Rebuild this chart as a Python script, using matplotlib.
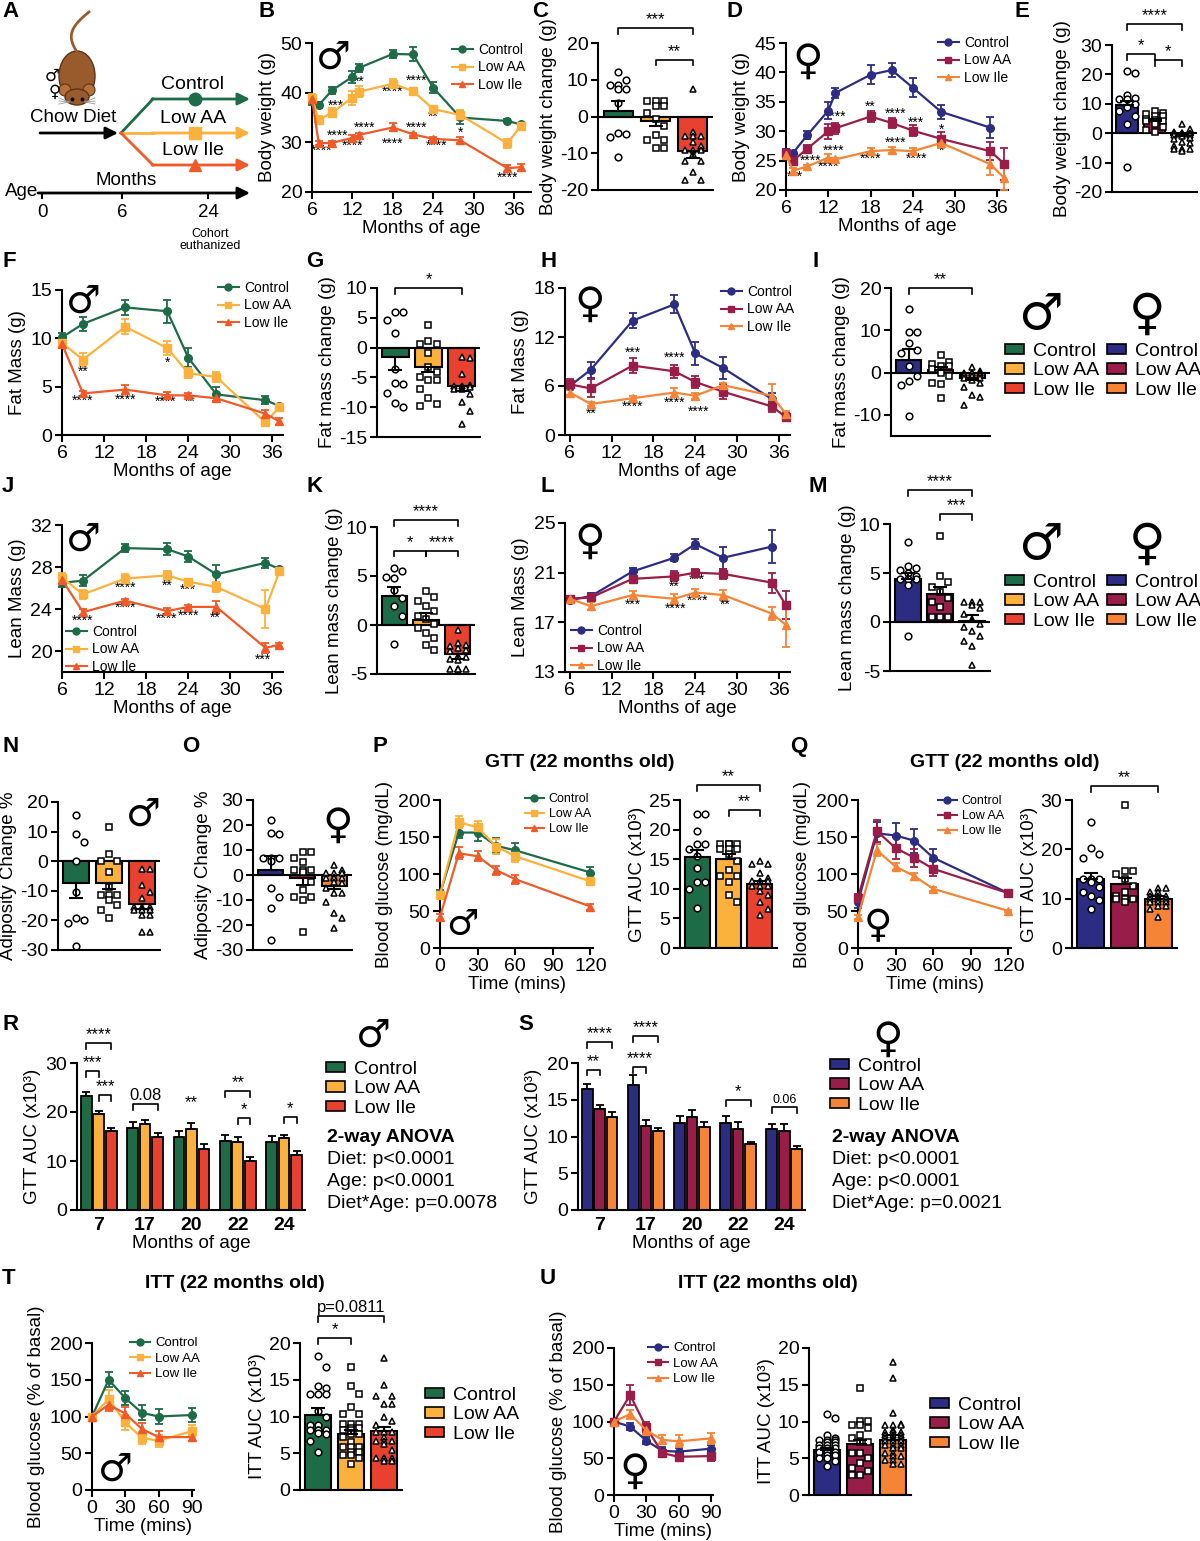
import numpy as np
import matplotlib
matplotlib.use('Agg')
import matplotlib.pyplot as plt
from matplotlib.patches import Patch, Ellipse, Circle
from matplotlib.lines import Line2D

nan = np.nan
GROUPS = ['Control', 'Low AA', 'Low Ile']

# ---------------- data ----------------
# B: male body weight
b_months = [6, 7, 9, 12, 13, 18, 21, 24, 28, 35, 37]
b_ctrl = [38.5, 37.5, 40.5, 43.2, 45.0, 47.8, 47.7, 41.0, 35.0, 34.3, 33.6]
b_ctrl_sem = [1.0, 0.6, 0.7, 1.2, 0.8, 0.8, 1.4, 1.1, 1.4, 0.3, 0.3]
b_aa = [39.0, 34.5, 36.0, 39.0, 40.2, 41.8, 40.3, 36.7, 35.5, 29.8, 33.3]
b_aa_sem = [0.8, 0.8, 0.9, 1.4, 1.1, 0.9, 0.7, 0.7, 1.0, 0.9, 0.4]
b_ile = [38.8, 29.8, 29.9, 30.9, 31.5, 33.0, 31.6, 30.7, 30.4, 24.8, 25.0]
b_ile_sem = [0.8, 0.4, 0.4, 0.6, 0.4, 0.8, 0.3, 0.3, 0.6, 0.7, 0.7]
b_stars = [(7, 33.3, '**'), (9.5, 37.3, '***'), (13, 42.2, '**'), (18, 40.1, '****'),
           (21.5, 42.3, '****'), (24, 35.2, '**'), (28, 32.0, '*'), (7.4, 28.3, '****'),
           (9.8, 31.3, '****'), (12, 29.3, '****'), (13.8, 33.0, '****'), (18, 29.7, '****'),
           (21.5, 33.0, '****'), (24.5, 29.3, '****'), (35, 22.9, '****')]

# C: male body weight change
c_means = [1.5, -1.2, -9.3]
c_sems = [2.8, 1.4, 2.0]
c_ctrl_pts = [12.0, 10.0, 8.7, 8.7, 7.5, 7.5, 3.8, -4.5, -4.7, -5.5, -11.0]
c_aa_pts = [4.2, 4.2, 4.2, 2.8, 2.8, 1.0, -0.8, -2.5, -5.0, -6.5, -6.5, -8.5, -8.5]
c_ile_pts = [7.5, -4.3, -5.4, -5.4, -5.4, -7.0, -7.9, -9.2, -9.2, -9.2, -10.1, -12.0, -12.0,
             -15.0, -17.3, -17.3]
c_brackets = [(0, 2, 24.0, '***'), (1, 2, 15.5, '**')]

# D: female body weight
d_months = [6, 7, 9, 12, 13, 18, 21, 24, 28, 35, 37]
d_ctrl = [26.5, 26.3, 29.3, 33.5, 36.5, 39.6, 40.4, 37.4, 33.3, 30.6, nan]
d_ctrl_sem = [0.5, 0.4, 0.7, 1.5, 0.9, 1.6, 1.2, 1.6, 1.2, 1.8, nan]
d_aa = [26.3, 25.0, 27.0, 30.0, 30.5, 32.5, 31.4, 30.1, 28.7, 26.6, 24.4]
d_aa_sem = [0.5, 0.4, 0.6, 1.3, 0.9, 0.9, 0.9, 0.9, 1.2, 1.5, 2.7]
d_ile = [26.0, 23.3, 24.0, 25.5, 25.2, 26.6, 26.8, 26.6, 28.0, 24.4, 22.0]
d_ile_sem = [0.5, 0.4, 0.3, 0.6, 0.3, 0.5, 0.5, 0.5, 0.8, 1.8, 2.0]
d_stars = [(13, 32.4, '****'), (18, 34.2, '**'), (21.5, 32.9, '****'), (24.5, 31.5, '***'),
           (28, 30.2, '*'), (9.5, 25.0, '****'), (12.8, 26.6, '****'), (12, 23.9, '****'),
           (7.3, 22.2, '***'), (18, 25.3, '****'), (21.5, 28.1, '****'), (24.5, 25.3, '****'),
           (28, 26.6, '*')]

# E: female body weight change
e_means = [9.5, 4.0, -0.6]
e_sems = [1.5, 0.8, 0.5]
e_ctrl_pts = [21.0, 20.5, 13.0, 12.0, 11.5, 11.5, 10.0, 9.0, 7.5, 6.0, 3.0, -11.5]
e_aa_pts = [7.5, 7.0, 6.5, 6.0, 6.0, 5.0, 4.5, 4.0, 4.0, 3.0, 2.0, 1.0, 0.5]
e_ile_pts = [3.0, 1.5, 0.5, 0.0, 0.0, 0.0, 0.0, -0.5, -0.5, -0.5, -1.0, -1.5, -2.0, -3.0,
             -3.5, -4.5, -5.5, -5.5, -5.5, -6.0]
e_brackets = [(0, 2, 37.0, '****'), (0, 1, 27.0, '*'), (1, 2, 25.0, '*')]

# F: male fat mass
f_months = [6, 9, 15, 21, 24, 28, 35, 37]
f_ctrl = [10.1, 11.5, 13.2, 12.8, 8.0, 4.2, 3.6, 3.0]
f_ctrl_sem = [0.5, 0.7, 0.8, 1.2, 1.0, 0.8, 0.4, 0.2]
f_aa = [9.5, 7.8, 11.2, 9.0, 6.4, 6.0, 1.3, 2.9]
f_aa_sem = [0.3, 0.7, 0.8, 0.7, 0.5, 0.5, 0.3, 0.3]
f_ile = [9.4, 4.3, 4.7, 4.1, 4.1, 3.8, 2.2, 1.4]
f_ile_sem = [0.3, 0.3, 0.5, 0.3, 0.2, 0.3, 0.4, 0.4]
f_stars = [(9, 6.5, '**'), (21, 7.5, '*'), (9, 3.5, '****'), (15, 3.6, '****'),
           (20.8, 3.4, '****'), (24.3, 3.4, '**')]

# G: male fat mass change
g_means = [-1.6, -3.3, -6.5]
g_sems = [2.2, 0.8, 0.7]
g_ctrl_pts = [6.0, 5.9, 4.6, 2.4, -3.6, -5.9, -6.1, -7.7, -9.3, -9.9]
g_aa_pts = [3.8, 1.1, 0.6, 0.6, -0.9, -3.3, -4.1, -5.0, -5.5, -5.5, -6.9, -8.4, -9.4, -9.8]
g_ile_pts = [-1.5, -1.7, -4.5, -6.2, -6.4, -6.4, -6.6, -6.9, -7.0, -7.8, -9.2, -10.7, -12.9]
g_brackets = [(0, 2, 10.0, '*')]

# H: female fat mass
h_months = [6, 9, 15, 21, 24, 28, 35, 37]
h_ctrl = [6.0, 8.0, 14.0, 16.0, 10.0, 8.2, 4.4, nan]
h_ctrl_sem = [0.5, 1.0, 0.9, 1.1, 1.4, 1.4, 0.8, nan]
h_aa = [6.2, 5.7, 8.5, 7.8, 6.5, 5.3, 3.5, 2.2]
h_aa_sem = [0.7, 1.1, 0.9, 0.8, 0.7, 0.9, 0.7, 0.5]
h_ile = [5.2, 3.8, 4.5, 5.2, 4.8, 6.1, 4.8, 2.6]
h_ile_sem = [0.3, 0.3, 0.3, 0.6, 0.4, 0.3, 1.5, 0.4]
h_stars = [(9, 2.6, '**'), (15, 10.1, '***'), (15, 3.4, '****'), (21, 9.4, '****'),
           (21, 3.9, '****'), (24.5, 2.9, '****')]

# I: female fat mass change
i_means = [3.0, 0.5, -1.2]
i_sems = [2.5, 0.8, 0.5]
i_ctrl_pts = [15.1, 9.6, 9.5, 6.9, 5.3, 4.7, 1.6, -0.8, -2.0, -2.9, -10.2]
i_aa_pts = [4.1, 2.5, 2.0, 1.6, 1.5, 0.9, 0.0, -0.8, -2.4, -2.8, -5.9]
i_ile_pts = [1.2, 0.4, 0.0, 0.0, -0.1, -0.2, -0.6, -0.6, -0.7, -1.2, -1.3, -1.7, -2.5, -3.5,
             -5.4, -5.7, -7.7]
i_brackets = [(0, 2, 20.0, '**')]

# J: male lean mass
j_months = [6, 9, 15, 21, 24, 28, 35, 37]
j_ctrl = [26.5, 26.7, 29.8, 29.7, 29.0, 27.3, 28.4, 27.8]
j_ctrl_sem = [0.4, 0.5, 0.4, 0.6, 0.5, 0.9, 0.5, 0.2]
j_aa = [27.0, 25.4, 26.9, 27.2, 26.6, 26.1, 24.0, 27.6]
j_aa_sem = [0.4, 0.4, 0.4, 0.4, 0.3, 0.5, 1.8, 0.3]
j_ile = [26.8, 23.7, 24.8, 23.8, 24.2, 24.2, 20.3, 20.6]
j_ile_sem = [0.3, 0.3, 0.2, 0.3, 0.2, 0.6, 0.5, 0.2]
j_stars = [(15, 26.0, '****'), (21, 26.2, '**'), (24, 25.8, '***'), (9, 22.9, '****'),
           (15, 24.1, '****'), (20.9, 23.1, '****'), (24, 23.4, '****'), (27.8, 23.2, '**'),
           (34.7, 19.2, '***')]

# K: male lean mass change
k_means = [3.0, 0.5, -3.0]
k_sems = [0.9, 0.7, 0.5]
k_ctrl_pts = [5.8, 5.5, 4.9, 4.8, 3.6, 2.8, 1.9, 0.9, -1.9]
k_aa_pts = [3.5, 2.9, 2.4, 1.9, 1.4, 0.9, 0.6, 0.1, -0.3, -0.8, -1.3, -2.0, -2.6]
k_ile_pts = [-0.5, -1.8, -2.0, -2.1, -2.3, -2.5, -2.7, -3.2, -3.3, -3.5, -3.6, -4.5, -4.5,
             -4.5, -4.5, -4.5]
k_brackets = [(0, 2, 10.7, '****'), (0, 1, 7.6, '*'), (1, 2, 7.6, '****')]

# L: female lean mass
l_months = [6, 9, 15, 21, 24, 28, 35, 37]
l_ctrl = [18.8, 19.1, 21.1, 22.2, 23.3, 22.2, 23.1, nan]
l_ctrl_sem = [0.2, 0.3, 0.3, 0.3, 0.4, 0.9, 1.3, nan]
l_aa = [18.9, 19.0, 20.5, 20.7, 21.0, 20.9, 20.2, 18.4]
l_aa_sem = [0.2, 0.3, 0.2, 0.4, 0.3, 0.4, 0.8, 1.1]
l_ile = [18.9, 18.3, 19.2, 18.9, 19.4, 19.2, 17.7, 16.8]
l_ile_sem = [0.2, 0.3, 0.3, 0.4, 0.3, 0.4, 0.5, 1.8]
l_stars = [(21, 19.9, '**'), (24.3, 20.4, '***'), (15, 18.4, '***'), (21.2, 18.1, '****'),
           (24.3, 18.7, '****'), (28.3, 18.45, '**')]

# M: female lean mass change
m_means = [4.4, 2.9, 0.1]
m_sems = [0.6, 0.7, 0.6]
m_ctrl_pts = [8.2, 5.7, 5.5, 5.3, 5.0, 4.7, 4.4, 4.4, 4.4, 4.4, 3.8, -1.4]
m_aa_pts = [8.8, 4.7, 4.1, 3.6, 3.1, 2.4, 2.0, 1.5, 0.5, 0.5, 0.5]
m_ile_pts = [2.0, 2.0, 2.0, 1.7, 1.4, 0.8, 0.3, -0.2, -0.5, -0.9, -1.4, -1.9, -2.4, -4.4]
m_brackets = [(0, 2, 13.5, '****'), (1, 2, 11.0, '***')]

# N: male adiposity change
n_means = [-7.3, -7.3, -14.3]
n_sems = [5.1, 2.2, 1.7]
n_ctrl_pts = [15.7, 9.3, 6.5, 0.0, -10.3, -19.1, -19.9, -21.0, -28.5]
n_aa_pts = [11.6, 2.6, 0.0, 0.0, -3.8, -8.7, -11.5, -11.5, -11.5, -13.1, -14.8, -16.5, -19.3]
n_ile_pts = [-2.5, -2.5, -8.1, -10.3, -12.6, -15.4, -15.4, -15.4, -16.5, -16.5, -16.5, -18.2,
             -18.2, -23.8, -23.8]

# O: female adiposity change
o_means = [2.0, -1.0, -4.5]
o_sems = [5.5, 2.8, 1.2]
o_ctrl_pts = [22.0, 16.7, 16.3, 6.7, 6.7, 6.7, 5.6, -5.3, -8.7, -13.3, -26.0]
o_aa_pts = [9.3, 9.3, 6.7, 5.3, 2.0, 2.0, 2.0, 1.3, -2.7, -6.0, -8.7, -8.7, -10.0, -22.7]
o_ile_pts = [4.0, 2.0, 0.7, 0.7, 0.7, -0.7, -1.3, -1.3, -1.3, -2.7, -3.3, -5.3, -7.3, -7.3,
             -10.7, -15.3, -17.0, -21.3]

# P / Q: GTT at 22 months
gtt_mins = [0, 15, 30, 45, 60, 120]
p_ctrl = [73, 156, 156, 138, 132, 102]
p_ctrl_sem = [5, 8, 12, 10, 10, 8]
p_aa = [72, 170, 163, 137, 124, 90]
p_aa_sem = [4, 8, 8, 10, 8, 5]
p_ile = [42, 128, 124, 105, 93, 56]
p_ile_sem = [4, 8, 7, 6, 6, 4]
p_auc = [15.3, 15.0, 10.8]
p_auc_sem = [1.3, 0.9, 0.6]
p_ctrl_pts = [22.6, 22.6, 19.8, 17.5, 17.5, 16.7, 15.6, 13.5, 11.1, 11.1, 10.0, 6.7]
p_aa_pts = [17.5, 17.5, 17.5, 17.5, 16.7, 16.7, 16.7, 15.9, 14.7, 13.2, 12.1, 12.1, 11.1, 8.9, 7.7]
p_ile_pts = [14.7, 14.2, 14.2, 12.7, 11.9, 11.4, 11.4, 11.4, 10.5, 10.5, 10.5, 9.7, 9.0, 7.8,
             6.6, 5.5]
p_brackets = [(0, 2, 27.5, '**'), (1, 2, 23.3, '**')]

q_ctrl = [62, 155, 152, 145, 122, 74]
q_ctrl_sem = [8, 15, 17, 16, 12, 4]
q_aa = [68, 158, 135, 122, 107, 74]
q_aa_sem = [5, 15, 15, 12, 10, 4]
q_ile = [42, 132, 110, 97, 80, 50]
q_ile_sem = [3, 8, 5, 5, 3, 2]
q_auc = [14.0, 13.0, 10.0]
q_auc_sem = [1.3, 1.1, 0.5]
q_ctrl_pts = [25.6, 20.2, 19.0, 18.2, 13.9, 13.9, 13.9, 13.3, 12.3, 11.3, 10.6, 9.8, 7.9]
q_aa_pts = [29.0, 15.7, 15.7, 15.0, 13.9, 12.6, 11.3, 10.6, 10.0, 10.0, 10.0, 9.3]
q_ile_pts = [12.1, 12.1, 11.3, 11.3, 10.6, 10.6, 10.6, 10.0, 10.0, 10.0, 10.0, 9.3, 9.3, 9.3,
             8.6, 8.6, 7.9, 6.3]
q_brackets = [(0, 2, 32.8, '**')]

# R / S: GTT AUC by age
gtt_ages = ['7', '17', '20', '22', '24']
r_ctrl = [23.2, 16.8, 15.0, 14.1, 13.8]
r_ctrl_sem = [0.8, 1.2, 1.1, 1.3, 1.3]
r_aa = [19.6, 17.5, 16.6, 13.9, 14.7]
r_aa_sem = [0.7, 0.9, 1.2, 1.0, 0.7]
r_ile = [16.1, 14.9, 12.4, 10.0, 11.2]
r_ile_sem = [0.6, 0.9, 1.0, 0.9, 0.8]
r_brackets = [(0, 0, 2, 34.0, '****'), (0, 0, 1, 28.3, '***'), (0, 1, 2, 23.4, '***'),
              (1, 0, 2, 21.6, '0.08'), (3, 0, 2, 24.2, '**'), (3, 1, 2, 18.7, '*'),
              (4, 1, 2, 19.0, '*')]
r_labels = [(2, 22.0, '**')]
r_anova = ['Diet: p<0.0001', 'Age: p<0.0001', 'Diet*Age: p=0.0078']

s_ctrl = [16.5, 17.0, 11.8, 11.9, 11.0]
s_ctrl_sem = [0.6, 1.4, 1.0, 0.9, 0.7]
s_aa = [13.8, 11.4, 12.7, 11.0, 10.8]
s_aa_sem = [0.5, 0.8, 0.9, 1.0, 0.9]
s_ile = [12.7, 10.7, 11.3, 9.0, 8.3]
s_ile_sem = [0.7, 0.4, 0.7, 0.3, 0.4]
s_brackets = [(0, 0, 2, 22.9, '****'), (0, 0, 1, 19.1, '**'), (1, 0, 2, 23.7, '****'),
              (1, 0, 1, 19.4, '****'), (3, 0, 2, 14.9, '*'), (4, 0, 2, 14.0, '0.06')]
s_anova = ['Diet: p<0.0001', 'Age: p<0.0001', 'Diet*Age: p=0.0021']

# T / U: ITT at 22 months
itt_mins = [0, 15, 30, 45, 60, 90]
t_ctrl = [100, 150, 125, 105, 100, 102]
t_ctrl_sem = [0, 10, 10, 10, 10, 10]
t_aa = [100, 124, 92, 71, 67, 80]
t_aa_sem = [0, 12, 10, 8, 8, 8]
t_ile = [100, 116, 104, 83, 72, 72]
t_ile_sem = [0, 9, 9, 8, 8, 6]
t_auc = [10.2, 7.6, 8.0]
t_auc_sem = [0.9, 0.5, 0.6]
t_ctrl_pts = [18.2, 16.7, 14.2, 13.9, 13.1, 13.1, 13.1, 10.8, 9.9, 8.8, 8.8, 8.2, 8.2, 8.2,
              8.2, 7.7, 7.6, 6.7, 5.2]
t_aa_pts = [16.7, 14.2, 13.0, 11.3, 10.4, 10.4, 9.0, 9.0, 9.0, 8.5, 8.5, 8.1, 8.1, 7.6, 7.6,
            7.2, 6.5, 5.8, 5.8, 5.8, 5.2, 5.2, 4.7, 4.7, 4.3, 3.6]
t_ile_pts = [17.9, 14.3, 12.8, 12.8, 11.7, 11.7, 9.9, 9.4, 8.8, 7.9, 7.9, 7.9, 7.2, 6.7, 6.7,
             6.7, 6.3, 5.4, 4.3, 4.3, 4.3, 4.3, 4.0, 4.0]
t_brackets = [(0, 1, 20.7, '*'), (0, 2, 23.7, 'p=0.0811')]

u_ctrl = [100, 93, 74, 60, 59, 63]
u_ctrl_sem = [0, 5, 5, 5, 5, 5]
u_aa = [100, 136, 92, 57, 52, 53]
u_aa_sem = [0, 14, 8, 5, 6, 7]
u_ile = [100, 110, 88, 75, 73, 77]
u_ile_sem = [0, 6, 6, 6, 8, 8]
u_auc = [6.1, 6.9, 7.5]
u_auc_sem = [0.3, 0.6, 0.6]
u_ctrl_pts = [11.0, 10.5, 8.2, 7.8, 7.5, 7.5, 7.5, 7.2, 7.2, 6.8, 6.8, 6.8, 6.4, 6.4, 6.4,
              5.9, 5.9, 5.9, 5.5, 5.5, 5.0, 5.0, 4.6, 3.9]
u_aa_pts = [14.6, 10.1, 10.1, 9.5, 9.5, 9.1, 8.2, 7.7, 7.2, 7.2, 5.7, 5.7, 5.0, 4.4, 3.7, 3.2,
            2.7, 2.7]
u_ile_pts = [18.1, 15.9, 11.1, 9.6, 9.5, 9.5, 9.5, 8.9, 8.6, 8.6, 8.6, 8.2, 8.2, 8.2, 7.7, 7.7,
             7.7, 7.3, 7.3, 7.3, 6.8, 6.8, 6.8, 6.4, 6.4, 5.7, 5.7, 5.3, 5.3, 4.8, 4.8, 4.2, 4.2]

# ---------------- style ----------------
plt.rcParams['font.family'] = ['Liberation Sans', 'DejaVu Sans']
plt.rcParams['axes.unicode_minus'] = False
plt.rcParams['axes.linewidth'] = 1.5
plt.rcParams['xtick.major.width'] = 1.5
plt.rcParams['ytick.major.width'] = 1.5
plt.rcParams['xtick.major.size'] = 5
plt.rcParams['ytick.major.size'] = 5

MALE = ['#1e6b48', '#fbb13c', '#ef5a28']
MALE_BAR = ['#1e6b48', '#fbb13c', '#e8412f']
FEMALE = ['#2d2c83', '#981d48', '#f58436']
MARKERS = ['o', 's', '^']
FS = 14

W, H = 1200, 1541
fig = plt.figure(figsize=(W / 100, H / 100), dpi=100)
ov = fig.add_axes([0, 0, 1, 1])
ov.set_xlim(0, W)
ov.set_ylim(H, 0)
ov.axis('off')


def box(x0, y0, x1, y1):
    ax = fig.add_axes([x0 / W, 1 - y1 / H, (x1 - x0) / W, (y1 - y0) / H])
    ax.patch.set_alpha(0)
    for s in ('top', 'right'):
        ax.spines[s].set_visible(False)
    ax.tick_params(labelsize=FS, pad=2)
    return ax, (x1 - x0, y1 - y0)


def swarm(vals, xstep, ystep, lim):
    vals = np.asarray(vals, float)
    offs = np.zeros(len(vals))
    cands = [0.0]
    k = 1
    while k * xstep <= lim:
        cands += [k * xstep, -k * xstep]
        k += 1
    placed = []
    for i in np.argsort(-vals, kind='stable'):
        best, best_d = 0.0, -1.0
        for c in cands:
            d = min([np.hypot((c - px) / xstep, (vals[i] - py) / ystep) for px, py in placed] or [9])
            if d >= 1:
                best = c
                break
            if d > best_d:
                best, best_d = c, d
        offs[i] = best
        placed.append((best, vals[i]))
    return offs


def legend_lines(colors, xy, fs=10):
    handles = [Line2D([], [], color=c, marker=mk, ms=5, lw=1.5) for c, mk in zip(colors, MARKERS)]
    fig.legend(handles, GROUPS, loc='upper left', bbox_to_anchor=(xy[0] / W, 1 - xy[1] / H),
               frameon=False, fontsize=fs, handlelength=1.5, handletextpad=0.4,
               labelspacing=0.25, borderpad=0, borderaxespad=0)


def legend_bars(colors, xy, fs=14):
    handles = [Patch(facecolor=c, edgecolor='k', lw=1.2) for c in colors]
    fig.legend(handles, GROUPS, loc='upper left', bbox_to_anchor=(xy[0] / W, 1 - xy[1] / H),
               frameon=False, fontsize=fs, handlelength=1.0, handleheight=0.45,
               handletextpad=0.45, labelspacing=0.12, borderpad=0, borderaxespad=0)


def line_panel(rect, t, series, colors, xlim, ylim, xticks, yticks, ylabel, xlabel,
               stars=(), star_fs=10):
    ax, _ = box(*rect)
    for (m, s), c, mk in zip(series, colors, MARKERS):
        eb = ax.errorbar(t, m, yerr=s, color=c, marker=mk, ms=5.5, lw=1.6, elinewidth=1.3,
                         capsize=3, capthick=1.3, zorder=3)
        eb.lines[0].set_clip_on(False)
        for art in list(eb.lines[1]) + list(eb.lines[2]):
            art.set_clip_on(False)
    ax.set_xlim(*xlim)
    ax.set_ylim(*ylim)
    ax.set_xticks(xticks)
    ax.set_yticks(yticks)
    ax.set_ylabel(ylabel, fontsize=13.5, labelpad=3)
    ax.set_xlabel(xlabel, fontsize=13.5, labelpad=1)
    for x, y, s in stars:
        ax.text(x, y, s, ha='center', va='center', fontsize=star_fs)
    return ax


def draw_brackets(ax, items, fs=12):
    lo, hi = ax.get_ylim()
    d = (hi - lo) * 0.04
    for x0, x1, y, lab in items:
        ax.plot([x0, x0, x1, x1], [y - d, y, y, y - d], color='k', lw=1.2, clip_on=False)
        small = 9 if lab == '0.06' else (12 if lab.startswith(('0', 'p')) else fs)
        ax.text((x0 + x1) / 2, y + d * 0.15, lab, ha='center', va='bottom', fontsize=small,
                clip_on=False)


def bar_panel(rect, means, sems, pts, colors, ylim, yticks, ylabel, brs=(), ms=4.8,
              star_fs=12):
    ax, (wpx, hpx) = box(*rect)
    xs = np.arange(3)
    ax.bar(xs, means, 0.8, color=colors, edgecolor='k', linewidth=1.5, zorder=2)
    ax.set_xlim(-0.55, 2.55)
    ax.set_ylim(*ylim)
    ax.set_yticks(yticks)
    ax.set_xticks([])
    if ylim[0] < 0:
        ax.axhline(0, color='k', lw=1.5, zorder=2.5)
    diam = ms * 1.39 * 1.2
    xstep = diam / (wpx / 3.1)
    ystep = 1.4 * diam / (hpx / (ylim[1] - ylim[0]))
    for x, vals, mk in zip(xs, pts, MARKERS):
        off = swarm(vals, xstep, ystep, 0.36)
        ax.plot(x + off, vals, ls='none', marker=mk, ms=ms, mfc='white', mec='k', mew=1.1,
                zorder=4, clip_on=False)
    for x, m, s in zip(xs, means, sems):
        err = [[0], [s]] if m >= 0 else [[s], [0]]
        ax.errorbar([x], [m], yerr=err, color='k', capsize=5, elinewidth=1.5, capthick=1.5,
                    zorder=5)
    draw_brackets(ax, [(xs[i], xs[j], y, lab) for i, j, y, lab in brs], fs=star_fs)
    ax.set_ylabel(ylabel, fontsize=13.5, labelpad=2)
    return ax


def group_panel(rect, means, sems, colors, ylim, yticks, ylabel, brs, labels):
    ax, _ = box(*rect)
    n = len(gtt_ages)
    offs = [-0.27, 0.0, 0.27]
    for k in range(3):
        x = np.arange(n) + offs[k]
        ax.bar(x, means[k], 0.23, color=colors[k], edgecolor='k', lw=1.3, zorder=2)
        ax.errorbar(x, means[k], yerr=[np.zeros(n), sems[k]], fmt='none', ecolor='k',
                    capsize=3, elinewidth=1.3, capthick=1.3, zorder=3)
    ax.set_xlim(-0.47, n - 0.55)
    ax.set_ylim(*ylim)
    ax.set_yticks(yticks)
    ax.set_xticks(np.arange(n))
    ax.set_xticklabels(gtt_ages, fontweight='bold')
    ax.tick_params(axis='x', length=0, pad=5)
    ax.set_ylabel(ylabel, fontsize=13.5, labelpad=3)
    ax.set_xlabel('Months of age', fontsize=13.5, labelpad=1)
    draw_brackets(ax, [(g + offs[i], g + offs[j], y, lab) for g, i, j, y, lab in brs])
    for g, y, lab in labels:
        ax.text(g, y, lab, ha='center', va='center', fontsize=12)
    return ax


def sex(x, y, male, fs=28):
    ov.text(x, y, '\u2642' if male else '\u2640', fontsize=fs, fontweight='bold',
            family='DejaVu Sans', ha='center', va='center')


# ---------------- panel A: study design ----------------
ov.add_patch(Ellipse((77, 76), 36, 50, facecolor='#9a5b2c', edgecolor='#5e3415', lw=1))
ov.add_patch(Circle((65, 90), 6, facecolor='#b5713c', edgecolor='#5e3415', lw=0.8))
ov.add_patch(Circle((89, 90), 6, facecolor='#b5713c', edgecolor='#5e3415', lw=0.8))
ov.add_patch(Ellipse((77, 97), 24, 16, facecolor='#9a5b2c', edgecolor='#5e3415', lw=1))
ov.plot([72, 82], [99, 99], ls='none', marker='o', ms=1.8, color='k')
for dy in (-2, 1, 4):
    ov.plot([59, 69], [100 + dy, 102], color='#999999', lw=0.6)
    ov.plot([85, 95], [102, 100 + dy], color='#999999', lw=0.6)
tail_s = np.linspace(0, 1, 30)
ov.plot(77 - 8 * np.sin(np.pi * tail_s) + 12 * tail_s ** 2, 52 - 40 * tail_s, color='#9a5b2c', lw=2)
ov.text(52, 76, '\u2642', fontsize=12, family='DejaVu Sans', ha='center', va='center')
ov.text(55, 92, '\u2640', fontsize=12, family='DejaVu Sans', ha='center', va='center')

ov.text(73, 117, 'Chow Diet', fontsize=13.5, ha='center', va='center')
arrow = dict(arrowstyle='-|>', lw=2, mutation_scale=18, shrinkA=0, shrinkB=0)
ov.annotate('', xy=(118, 133), xytext=(40, 133), arrowprops=dict(arrow, color='k'))
for col, yb, mk, lab in zip(MALE, [99, 133, 165], MARKERS, GROUPS):
    ov.plot([121, 153], [133, yb], color=col, lw=2)
    ov.annotate('', xy=(250, yb), xytext=(152, yb), arrowprops=dict(arrow, color=col))
    ov.plot([195], [yb], marker=mk, ms=9, color=col)
    ov.text(193, yb - 15, lab, fontsize=14, ha='center', va='center')
ov.annotate('', xy=(250, 193), xytext=(38, 193), arrowprops=dict(arrow, color='k'))
ov.text(22, 191, 'Age', fontsize=13.5, ha='center', va='center')
ov.text(126, 180, 'Months', fontsize=13.5, ha='center', va='center')
for xt, lab in [(42, '0'), (122, '6'), (208, '24')]:
    ov.plot([xt, xt], [193, 198], color='k', lw=1.5)
    ov.text(xt, 212, lab, fontsize=13.5, ha='center', va='center')
ov.text(210, 240, 'Cohort\neuthanized', fontsize=9, ha='center', va='center', linespacing=1.0)

# ---------------- row 1 ----------------
line_panel((312, 43, 531, 192), b_months,
           [(b_ctrl, b_ctrl_sem), (b_aa, b_aa_sem), (b_ile, b_ile_sem)], MALE,
           (6, 38.5), (20, 50), [6, 12, 18, 24, 30, 36], [20, 30, 40, 50],
           'Body weight (g)', 'Months of age', b_stars)
legend_lines(MALE, (452, 43))
sex(333, 58, True)

bar_panel((598, 43, 713, 190), c_means, c_sems, [c_ctrl_pts, c_aa_pts, c_ile_pts], MALE_BAR,
          (-20, 20), [-20, -10, 0, 10, 20], 'Body weight change (g)', c_brackets)

line_panel((786, 43, 1008, 190), d_months,
           [(d_ctrl, d_ctrl_sem), (d_aa, d_aa_sem), (d_ile, d_ile_sem)], FEMALE,
           (6, 37.5), (20, 45), [6, 12, 18, 24, 30, 36], [20, 25, 30, 35, 40, 45],
           'Body weight (g)', 'Months of age', d_stars)
legend_lines(FEMALE, (938, 36))
sex(808, 62, False, 30)

bar_panel((1112, 45, 1197, 192), e_means, e_sems, [e_ctrl_pts, e_aa_pts, e_ile_pts], FEMALE,
          (-20, 30), [-20, -10, 0, 10, 20, 30], 'Body weight change (g)', e_brackets)

# ---------------- row 2 ----------------
line_panel((62, 290, 283, 435), f_months,
           [(f_ctrl, f_ctrl_sem), (f_aa, f_aa_sem), (f_ile, f_ile_sem)], MALE,
           (6, 37.5), (0, 15), [6, 12, 18, 24, 30, 36], [0, 5, 10, 15],
           'Fat Mass (g)', 'Months of age', f_stars)
legend_lines(MALE, (218, 281))
sex(83, 302, True)

bar_panel((377, 288, 480, 437), g_means, g_sems, [g_ctrl_pts, g_aa_pts, g_ile_pts], MALE_BAR,
          (-15, 10), [-15, -10, -5, 0, 5, 10], 'Fat mass change (g)', g_brackets)

line_panel((565, 288, 790, 435), h_months,
           [(h_ctrl, h_ctrl_sem), (h_aa, h_aa_sem), (h_ile, h_ile_sem)], FEMALE,
           (5.3, 37.6), (0, 18), [6, 12, 18, 24, 30, 36], [0, 6, 12, 18],
           'Fat Mass (g)', 'Months of age', h_stars)
legend_lines(FEMALE, (721, 285))
sex(590, 305, False, 30)

bar_panel((891, 288, 990, 436), i_means, i_sems, [i_ctrl_pts, i_aa_pts, i_ile_pts], FEMALE,
          (-15, 20), [-10, 0, 10, 20], 'Fat mass change (g)', i_brackets)
sex(1040, 315, True, 36)
sex(1147, 315, False, 36)
legend_bars(MALE_BAR, (1005, 343))
legend_bars(FEMALE, (1107, 343))

# ---------------- row 3 ----------------
line_panel((62, 525, 283, 672), j_months,
           [(j_ctrl, j_ctrl_sem), (j_aa, j_aa_sem), (j_ile, j_ile_sem)], MALE,
           (6, 37.5), (18, 32), [6, 12, 18, 24, 30, 36], [20, 24, 28, 32],
           'Lean Mass (g)', 'Months of age', j_stars)
legend_lines(MALE, (66, 625))
sex(83, 540, True)

bar_panel((377, 527, 475, 674), k_means, k_sems, [k_ctrl_pts, k_aa_pts, k_ile_pts], MALE_BAR,
          (-5, 10), [-5, 0, 5, 10], 'Lean mass change (g)', k_brackets)

line_panel((565, 523, 790, 672), l_months,
           [(l_ctrl, l_ctrl_sem), (l_aa, l_aa_sem), (l_ile, l_ile_sem)], FEMALE,
           (5.3, 37.6), (13, 25), [6, 12, 18, 24, 30, 36], [13, 17, 21, 25],
           'Lean Mass (g)', 'Months of age', l_stars)
legend_lines(FEMALE, (571, 624))
sex(590, 542, False, 30)

bar_panel((890, 524, 990, 671), m_means, m_sems, [m_ctrl_pts, m_aa_pts, m_ile_pts], FEMALE,
          (-5, 10), [-5, 0, 5, 10], 'Lean mass change (g)', m_brackets)
sex(1040, 545, True, 36)
sex(1147, 545, False, 36)
legend_bars(MALE_BAR, (1005, 574))
legend_bars(FEMALE, (1107, 574))

# ---------------- row 4 ----------------
bar_panel((58, 802, 160, 950), n_means, n_sems, [n_ctrl_pts, n_aa_pts, n_ile_pts], MALE_BAR,
          (-30, 20), [-30, -20, -10, 0, 10, 20], 'Adiposity Change %')
sex(143, 815, True)

bar_panel((253, 800, 352, 950), o_means, o_sems, [o_ctrl_pts, o_aa_pts, o_ile_pts], FEMALE,
          (-30, 30), [-30, -20, -10, 0, 10, 20, 30], 'Adiposity Change %')
sex(338, 826, False, 30)

ov.text(580, 762, 'GTT (22 months old)', fontsize=14, fontweight='bold', ha='center', va='center')
line_panel((440, 800, 593, 948), gtt_mins,
           [(p_ctrl, p_ctrl_sem), (p_aa, p_aa_sem), (p_ile, p_ile_sem)], MALE,
           (0, 122), (0, 200), [0, 30, 60, 90, 120], [0, 50, 100, 150, 200],
           'Blood glucose (mg/dL)', 'Time (mins)')
legend_lines(MALE, (525, 793), fs=9)
sex(462, 925, True, 26)
bar_panel((680, 800, 777, 948), p_auc, p_auc_sem, [p_ctrl_pts, p_aa_pts, p_ile_pts], MALE_BAR,
          (0, 25), [0, 5, 10, 15, 20, 25], 'GTT AUC (x10\u00b3)', p_brackets)

ov.text(1005, 762, 'GTT (22 months old)', fontsize=14, fontweight='bold', ha='center', va='center')
line_panel((858, 800, 1011, 948), gtt_mins,
           [(q_ctrl, q_ctrl_sem), (q_aa, q_aa_sem), (q_ile, q_ile_sem)], FEMALE,
           (0, 122), (0, 200), [0, 30, 60, 90, 120], [0, 50, 100, 150, 200],
           'Blood glucose (mg/dL)', 'Time (mins)')
legend_lines(FEMALE, (938, 795), fs=9)
sex(878, 926, False, 28)
bar_panel((1072, 800, 1177, 948), q_auc, q_auc_sem, [q_ctrl_pts, q_aa_pts, q_ile_pts], FEMALE,
          (0, 30), [0, 10, 20, 30], 'GTT AUC (x10\u00b3)', q_brackets)

# ---------------- row 5 ----------------
group_panel((77, 1063, 305, 1210), [r_ctrl, r_aa, r_ile], [r_ctrl_sem, r_aa_sem, r_ile_sem],
            MALE_BAR, (0, 30), [0, 10, 20, 30], 'GTT AUC (x10\u00b3)', r_brackets, r_labels)
sex(373, 1036, True)
legend_bars(MALE_BAR, (326, 1061))
ov.text(327, 1137, '2-way ANOVA', fontsize=14, fontweight='bold', ha='left', va='center')
for k, line in enumerate(r_anova):
    ov.text(327, 1159 + 22 * k, line, fontsize=14, ha='left', va='center')

group_panel((578, 1063, 805, 1210), [s_ctrl, s_aa, s_ile], [s_ctrl_sem, s_aa_sem, s_ile_sem],
            FEMALE, (0, 20), [0, 5, 10, 15, 20], 'GTT AUC (x10\u00b3)', s_brackets, [])
sex(888, 1040, False, 30)
legend_bars(FEMALE, (830, 1058))
ov.text(832, 1137, '2-way ANOVA', fontsize=14, fontweight='bold', ha='left', va='center')
for k, line in enumerate(s_anova):
    ov.text(832, 1159 + 22 * k, line, fontsize=14, ha='left', va='center')

# ---------------- row 6 ----------------
ov.text(235, 1283, 'ITT (22 months old)', fontsize=14, fontweight='bold', ha='center', va='center')
line_panel((92, 1343, 194, 1490), itt_mins,
           [(t_ctrl, t_ctrl_sem), (t_aa, t_aa_sem), (t_ile, t_ile_sem)], MALE,
           (0, 92), (0, 200), [0, 30, 60, 90], [0, 50, 100, 150, 200],
           'Blood glucose (% of basal)', 'Time (mins)')
legend_lines(MALE, (130, 1337), fs=9.5)
sex(115, 1470, True)
bar_panel((300, 1343, 402, 1490), t_auc, t_auc_sem, [t_ctrl_pts, t_aa_pts, t_ile_pts], MALE_BAR,
          (0, 20), [0, 5, 10, 15, 20], 'ITT AUC (x10\u00b3)', t_brackets)
legend_bars(MALE_BAR, (425, 1387))

ov.text(768, 1283, 'ITT (22 months old)', fontsize=14, fontweight='bold', ha='center', va='center')
line_panel((614, 1348, 713, 1495), itt_mins,
           [(u_ctrl, u_ctrl_sem), (u_aa, u_aa_sem), (u_ile, u_ile_sem)], FEMALE,
           (0, 92), (0, 200), [0, 30, 60, 90], [0, 50, 100, 150, 200],
           'Blood glucose (% of basal)', 'Time (mins)')
legend_lines(FEMALE, (648, 1342), fs=9.5)
sex(635, 1472, False, 30)
bar_panel((809, 1348, 911, 1495), u_auc, u_auc_sem, [u_ctrl_pts, u_aa_pts, u_ile_pts], FEMALE,
          (0, 20), [0, 5, 10, 15, 20], 'ITT AUC (x10\u00b3)')
legend_bars(FEMALE, (930, 1397))

# ---------------- panel letters ----------------
letters = [('A', 2, 1), ('B', 258, 1), ('C', 532, 1), ('D', 727, 1), ('E', 1014, 1),
           ('F', 2, 251), ('G', 306, 251), ('H', 540, 251), ('I', 812, 251),
           ('J', 2, 476), ('K', 306, 476), ('L', 540, 476), ('M', 808, 476),
           ('N', 2, 736), ('O', 182, 736), ('P', 372, 736), ('Q', 790, 736),
           ('R', 2, 1014), ('S', 518, 1014), ('T', 2, 1268), ('U', 540, 1268)]
for lab, x, y in letters:
    ov.text(x, y, lab, fontsize=16, fontweight='bold', ha='left', va='top')

fig.savefig('out.png', dpi=100, facecolor='white')
